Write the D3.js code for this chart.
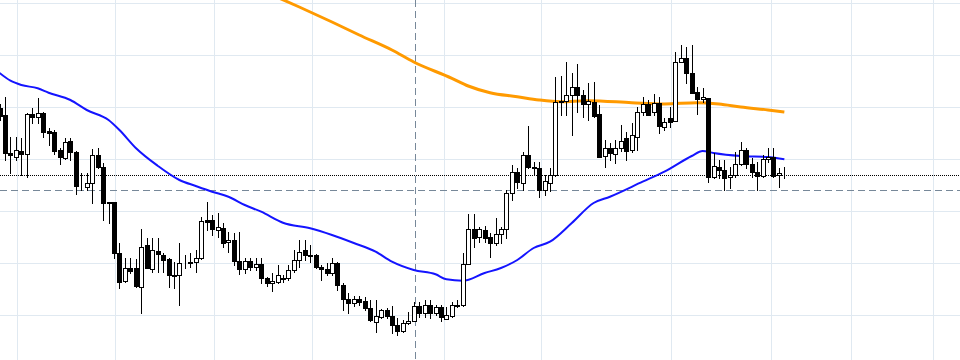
<!DOCTYPE html>
<html><head><meta charset="utf-8">
<script src="https://cdn.jsdelivr.net/npm/d3@7"></script>
<style>html,body{margin:0;padding:0;background:#fff;overflow:hidden}svg{display:block}</style>
</head><body>
<svg id="chart" width="960" height="360"></svg>
<script>
// OHLC per bar (bar index = position in array)
const open = [1.0992,1.0985,1.09473,1.09433,1.0949,1.09457,1.0986,1.09827,1.09867,1.09693,
1.09677,1.0950,1.09417,1.0959,1.0948,1.09143,1.09133,1.09173,1.0945,1.0933,
1.08977,1.08977,1.08467,1.08193,1.08317,1.08317,1.08127,1.0855,1.08307,1.0849,
1.0845,1.08407,1.0825,1.08247,1.08367,1.08375,1.08377,1.08417,1.0880,1.0880,
1.0870,1.08717,1.08577,1.0860,1.0839,1.08307,1.0839,1.08327,1.0836,1.08217,
1.08167,1.08183,1.08215,1.08217,1.0830,1.0840,1.0850,1.0845,1.0845,1.08327,
1.08307,1.08267,1.08367,1.0815,1.08007,1.07973,1.08007,1.0799,1.07917,1.07783,
1.07827,1.0790,1.0784,1.0775,1.0769,1.07767,1.07795,1.0794,1.07873,1.0795,
1.07873,1.07927,1.0781,1.07843,1.07945,1.0795,1.0836,1.08707,1.08627,1.0870,
1.08627,1.08567,1.08657,1.08713,1.09067,1.09283,1.09175,1.0945,1.09327,1.09323,
1.09103,1.09175,1.0925,1.0999,1.0999,1.1005,1.10127,1.1005,1.09957,1.09985,
1.0986,1.0944,1.09517,1.09465,1.09517,1.09617,1.09495,1.09633,1.0988,1.09957,
1.09877,1.09967,1.09733,1.09817,1.09793,1.10383,1.10417,1.10273,1.10077,1.10007,
1.10017,1.0923,1.09333,1.0930,1.09227,1.0925,1.0936,1.0950,1.0936,1.09283,
1.0924,1.09407,1.09433,1.0925,1.09252];
const high = [1.0996,1.1003,1.09633,1.0963,1.0962,1.0987,1.09917,1.10017,1.0988,1.09717,
1.0970,1.0952,1.09617,1.09617,1.0949,1.09267,1.09267,1.09507,1.09523,1.09373,
1.0898,1.0898,1.08567,1.08417,1.08417,1.08407,1.08707,1.08617,1.0862,1.0862,
1.0847,1.08417,1.0838,1.08567,1.0845,1.08467,1.0850,1.08833,1.08983,1.0885,
1.08867,1.0877,1.08683,1.0867,1.08683,1.0842,1.08417,1.08417,1.08417,1.0823,
1.08267,1.0835,1.0825,1.0835,1.0850,1.0860,1.0860,1.0855,1.0846,1.0835,
1.08367,1.08417,1.0838,1.0817,1.08067,1.0804,1.0804,1.08033,1.0800,1.0800,
1.0791,1.0792,1.0794,1.0782,1.0780,1.07883,1.07983,1.07983,1.0800,1.0800,
1.0795,1.0795,1.07933,1.07983,1.0800,1.08467,1.08857,1.08857,1.08733,1.0874,
1.08667,1.08817,1.08733,1.0910,1.0935,1.09317,1.09483,1.0974,1.09383,1.09383,
1.0925,1.0932,1.10235,1.1024,1.1038,1.10267,1.1036,1.1010,1.10167,1.10183,
1.0995,1.0960,1.09567,1.0960,1.0975,1.0968,1.09767,1.0993,1.10033,1.1000,
1.1006,1.10033,1.09817,1.09933,1.10483,1.10555,1.10533,1.10555,1.1013,1.10117,
1.1002,1.09467,1.0940,1.0940,1.09333,1.09483,1.09583,1.09517,1.09417,1.09383,
1.0945,1.09517,1.09517,1.09317,1.09333];
const low = [1.0980,1.0940,1.09273,1.0940,1.0925,1.09233,1.09767,1.09767,1.09633,1.0955,
1.0946,1.0936,1.09407,1.0940,1.0906,1.0910,1.0910,1.08973,1.09317,1.0880,
1.08767,1.08417,1.08117,1.08183,1.08267,1.0813,1.07873,1.08317,1.0828,1.08283,
1.08283,1.08133,1.0812,1.0795,1.08317,1.0833,1.08283,1.0841,1.0870,1.0865,
1.08633,1.08533,1.08483,1.0835,1.0826,1.08267,1.0830,1.0830,1.0817,1.0814,
1.08093,1.08167,1.08183,1.0820,1.08283,1.08333,1.0840,1.0838,1.08317,1.0820,
1.0825,1.0825,1.0810,1.0790,1.07867,1.0794,1.0795,1.0790,1.07793,1.07683,
1.0782,1.0782,1.0767,1.0765,1.0768,1.0776,1.0779,1.07833,1.07833,1.07817,
1.0785,1.07793,1.07807,1.07833,1.07933,1.07945,1.0836,1.08533,1.08583,1.08583,
1.08433,1.0855,1.08567,1.08617,1.0900,1.09117,1.0910,1.09323,1.0925,1.09033,
1.0905,1.0909,1.09245,1.0985,1.0985,1.0965,1.09883,1.09833,1.0980,1.09833,
1.09433,1.09333,1.0940,1.09367,1.0949,1.0940,1.09483,1.0950,1.0985,1.0985,
1.0985,1.09667,1.0970,1.09733,1.0979,1.10377,1.10167,1.10067,1.09865,1.09983,
1.09183,1.09217,1.09217,1.0910,1.09117,1.09233,1.0935,1.09317,1.09233,1.0910,
1.09235,1.09383,1.09233,1.09133,1.09217];
const close = [1.0984,1.09467,1.09447,1.0950,1.09457,1.0986,1.09827,1.09867,1.09683,1.09673,
1.0949,1.09427,1.09583,1.09483,1.09143,1.09137,1.09173,1.0945,1.09333,1.08973,
1.08967,1.08467,1.08183,1.08317,1.08293,1.0814,1.08535,1.0832,1.0850,1.08457,
1.0840,1.08247,1.08243,1.08367,1.08373,1.0838,1.08417,1.0879,1.08783,1.08707,
1.08727,1.08573,1.0860,1.08393,1.08307,1.0839,1.08327,1.0836,1.08217,1.08167,
1.08193,1.0825,1.08217,1.0830,1.0840,1.08483,1.0845,1.08445,1.08327,1.08307,
1.08267,1.08367,1.0815,1.08007,1.07973,1.08007,1.07983,1.07917,1.0780,1.0784,
1.0790,1.0784,1.0775,1.0769,1.07767,1.0779,1.0794,1.07873,1.0795,1.07867,
1.07927,1.07827,1.0785,1.0795,1.0795,1.0836,1.08707,1.08617,1.08707,1.08617,
1.08567,1.08657,1.08707,1.09067,1.09283,1.09177,1.0945,1.09327,1.09323,1.09103,
1.09195,1.0925,1.09985,1.09983,1.1005,1.10127,1.1005,1.09957,1.09995,1.09843,
1.09435,1.09517,1.09467,1.09517,1.09595,1.09493,1.0965,1.0988,1.09957,1.09855,
1.09967,1.09743,1.09783,1.09783,1.10383,1.10417,1.10273,1.10073,1.10007,1.10027,
1.0923,1.0934,1.0930,1.09217,1.0925,1.0936,1.0950,1.0936,1.09283,1.0924,
1.09407,1.09433,1.09245,1.09267,1.0925];

// Moving averages read at selected bars
const maFastBars = [0,2,4,7,9,13,16,20,22,25,29,33,36,39,42,45,48,52,57,61,65,69,72,76,80,82,85,89,92,95,98,101,105,109,112,118,122,127,129,131,136,141,144];
const maFastVals = [1.1027,1.10193,1.1015,1.10117,1.10073,1.1000,1.0990,1.0980,1.0970,1.0952,1.09343,1.0920,1.0914,1.09083,1.09033,1.0895,1.08883,1.08773,1.08717,1.0865,1.0857,1.08483,1.08383,1.0830,1.08257,1.08207,1.08193,1.0827,1.0832,1.0840,1.0852,1.08583,1.0877,1.0897,1.09033,1.09183,1.09283,1.0944,1.0949,1.0947,1.0944,1.0943,1.09407];
const maSlowBars = [50,55,61,66,72,76,83,86,90,95,99,103,108,116,122,128,132,136,141,144];
const maSlowVals = [1.1105,1.1093,1.1078,1.1065,1.1050,1.1038,1.10217,1.1014,1.10073,1.10033,1.1000,1.09983,1.09993,1.09973,1.0996,1.09973,1.0996,1.0993,1.0990,1.0988];

const gridPrices = [1.1097,1.1045,1.0993,1.0941,1.0889,1.0837,1.0785];
const gridBars = [3.2,21.2,39.35,57.3,81.55,99.35,123.2,141.55,156.2,171.3];
const sessionBreakBar = 76.2;
const lastPrice = 1.0925;
const refPrice = 1.09097;

const W = 960, H = 360;
const svg = d3.select('#chart');
const x = d3.scaleLinear().domain([0, 144]).range([-0.45, 784.35]);
const y = d3.scaleLinear().domain([1.1100, 1.0740]).range([0, 360]);
const px = v => Math.round(v) + 0.5;

// grid
svg.append('g').selectAll('line').data(gridPrices).join('line')
  .attr('x1', 0).attr('x2', W).attr('y1', d => px(y(d))).attr('y2', d => px(y(d)))
  .attr('stroke', '#e0e9f1').attr('stroke-width', 1);
svg.append('g').selectAll('line').data(gridBars).join('line')
  .attr('y1', 0).attr('y2', H).attr('x1', d => px(x(d))).attr('x2', d => px(x(d)))
  .attr('stroke', '#e0e9f1').attr('stroke-width', 1);

// reference lines
svg.append('line').attr('x1', 0).attr('x2', W)
  .attr('y1', px(y(refPrice))).attr('y2', px(y(refPrice)))
  .attr('stroke', '#778899').attr('stroke-width', 1).attr('stroke-dasharray', '7,4');
svg.append('line').attr('y1', 0).attr('y2', H)
  .attr('x1', px(x(sessionBreakBar))).attr('x2', px(x(sessionBreakBar)))
  .attr('stroke', '#778899').attr('stroke-width', 1).attr('stroke-dasharray', '7,4');
svg.append('line').attr('x1', 0).attr('x2', W)
  .attr('y1', px(y(lastPrice))).attr('y2', px(y(lastPrice)))
  .attr('stroke', '#000').attr('stroke-width', 1).attr('stroke-dasharray', '1,1');

// moving averages
const line = d3.line().x(d => x(d[0])).y(d => y(d[1])).curve(d3.curveMonotoneX);
svg.append('path').datum(maSlowBars.map((b, i) => [b, maSlowVals[i]]))
  .attr('d', line).attr('fill', 'none').attr('stroke', '#ff9a00').attr('stroke-width', 3);
svg.append('path').datum(maFastBars.map((b, i) => [b, maFastVals[i]]))
  .attr('d', line).attr('fill', 'none').attr('stroke', '#1414ff').attr('stroke-width', 2);

// candles
const bars = open.map((o, i) => ({i, o, h: high[i], l: low[i], c: close[i]}));
const g = svg.append('g');
g.selectAll('line.wick').data(bars).join('line').attr('class', 'wick')
  .attr('x1', d => px(x(d.i))).attr('x2', d => px(x(d.i)))
  .attr('y1', d => Math.round(y(d.h))).attr('y2', d => Math.round(y(d.l)) + 1)
  .attr('stroke', '#000').attr('stroke-width', 1);
g.selectAll('rect.body').data(bars).join('rect').attr('class', 'body')
  .attr('x', d => Math.round(x(d.i)) - 1.5)
  .attr('width', 4)
  .attr('y', d => Math.round(y(Math.max(d.o, d.c))) + 0.5)
  .attr('height', d => Math.max(0, Math.round(y(Math.min(d.o, d.c))) - Math.round(y(Math.max(d.o, d.c)))))
  .attr('fill', d => d.c >= d.o ? '#fff' : '#000')
  .attr('stroke', '#000').attr('stroke-width', 1);
</script>
</body></html>
